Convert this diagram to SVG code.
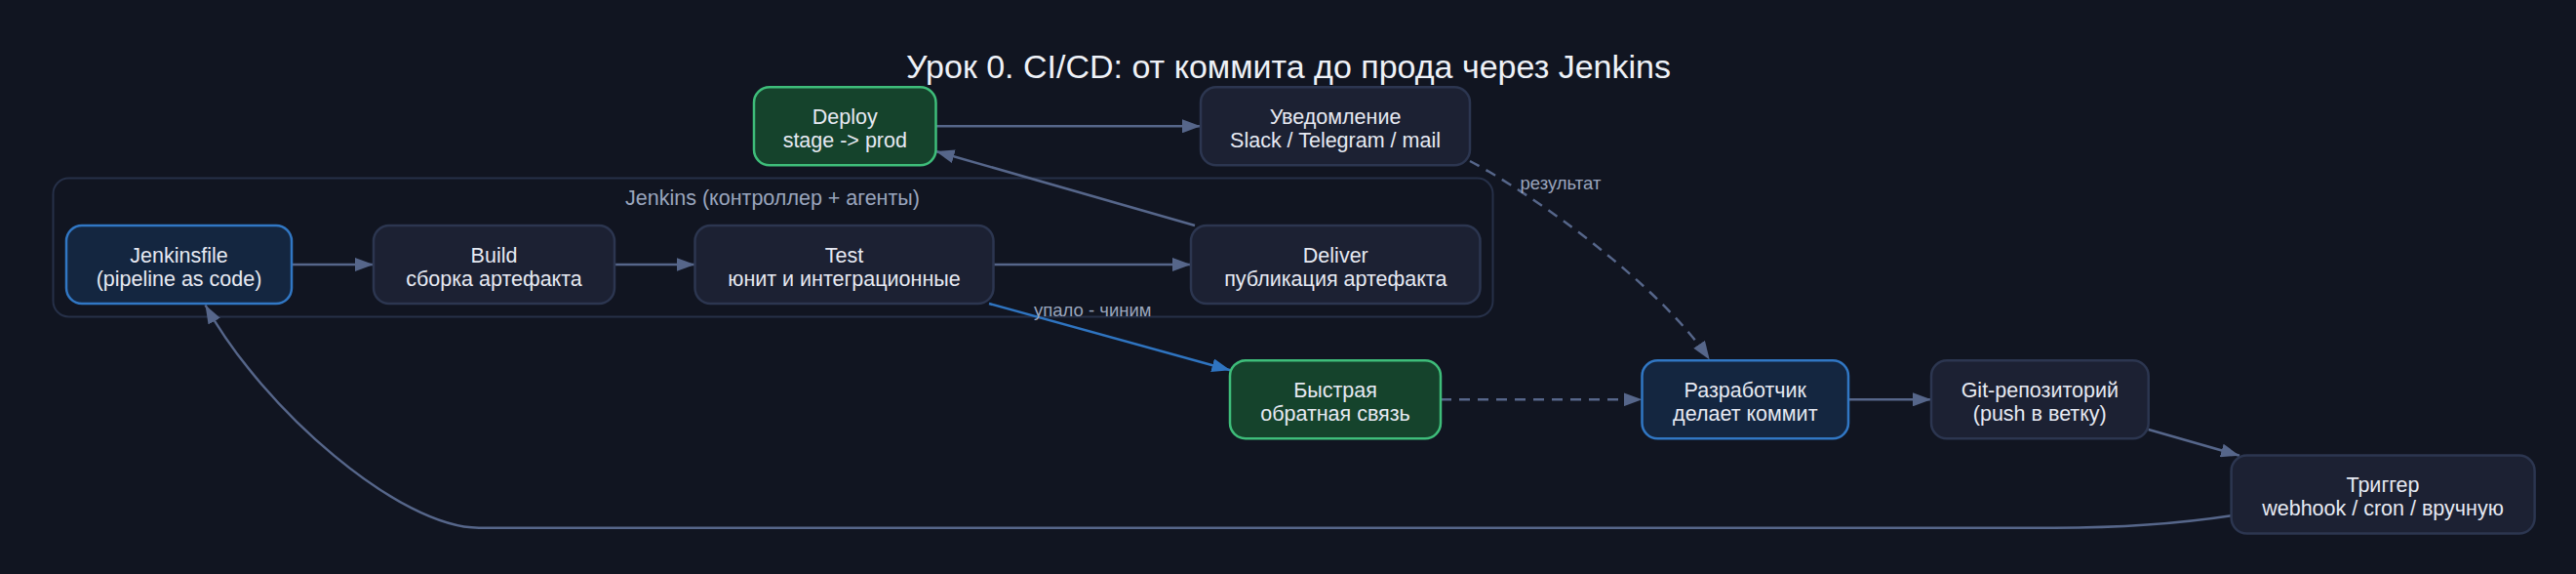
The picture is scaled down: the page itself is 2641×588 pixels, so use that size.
<svg xmlns="http://www.w3.org/2000/svg" width="2641" height="588" viewBox="0 0 2641 588">
<style>
  .bg { fill: #111521; }
  .cluster { fill: #111521; stroke: #263048; stroke-width: 2; }
  .node rect { stroke-width: 2.5; }
  .def rect { fill: #1c2133; stroke: #2c3650; }
  .blue rect { fill: #142640; stroke: #3177c4; }
  .green rect { fill: #15432c; stroke: #3ebd7a; }
  text { font-family: "Liberation Sans", Arial, sans-serif; }
  .lbl { fill: #e6e9f2; font-size: 21.5px; text-anchor: middle; }
  .title { fill: #eef1f7; font-size: 34px; text-anchor: middle; }
  .clabel { fill: #9aa5bd; font-size: 21.5px; text-anchor: middle; }
  .elabel { fill: #9aa5bd; font-size: 18.5px; }
  .edge { fill: none; stroke: #56668a; stroke-width: 2.5; }
  .dash { stroke-dasharray: 11 8; }
  .bedge { fill: none; stroke: #2f74c0; stroke-width: 2.5; }
</style>
<defs>
  <marker id="arr" markerUnits="userSpaceOnUse" markerWidth="20" markerHeight="14" refX="19" refY="7" orient="auto">
    <path d="M0,0 L19,7 L0,14 z" fill="#56668a"/>
  </marker>
  <marker id="barr" markerUnits="userSpaceOnUse" markerWidth="20" markerHeight="14" refX="19" refY="7" orient="auto">
    <path d="M0,0 L19,7 L0,14 z" fill="#2f74c0"/>
  </marker>
</defs>
<rect class="bg" x="0" y="0" width="2641" height="588"/>
<text class="title" x="1321" y="80">Урок 0. CI/CD: от коммита до прода через Jenkins</text>

<g id="cluster-jenkins">
  <rect class="cluster" x="54.5" y="182.5" width="1476" height="142" rx="16"/>
  <text class="clabel" x="792" y="210">Jenkins (контроллер + агенты)</text>
</g>

<g id="connectors">
  <path class="edge" d="M299,271 L383,271" marker-end="url(#arr)"/>
  <path class="edge" d="M630,271 L712.5,271" marker-end="url(#arr)"/>
  <path class="edge" d="M1018.5,271 L1221,271" marker-end="url(#arr)"/>
  <path class="edge" d="M1225,231 L959.5,155" marker-end="url(#arr)"/>
  <path class="edge" d="M959.5,129.3 L1231,129.3" marker-end="url(#arr)"/>
  <path class="edge dash" d="M1507,165 C1570,198 1700,290 1752.7,368.5" marker-end="url(#arr)"/>
  <text class="elabel" x="1558.5" y="193.5">результат</text>
  <path class="bedge" d="M1014,311 L1261.4,379.3" marker-end="url(#barr)"/>
  <text class="elabel" x="1060" y="324">упало - чиним</text>
  <path class="edge dash" d="M1477,409.3 L1683.5,409.3" marker-end="url(#arr)"/>
  <path class="edge" d="M1895,409.3 L1980,409.3" marker-end="url(#arr)"/>
  <path class="edge" d="M2202.7,440 L2296,466.7" marker-end="url(#arr)"/>
  <path class="edge" d="M2287.6,528.3 C2230,537 2160,540.7 2106.7,540.7 L491,540.7 C410,540.7 270,420 210.5,312.5" marker-end="url(#arr)"/>
</g>

<g id="node-jenkinsfile" class="node blue">
  <rect x="68" y="231" width="231" height="80" rx="16"/>
  <text class="lbl" x="183.5" y="269">Jenkinsfile</text>
  <text class="lbl" x="183.5" y="292.5">(pipeline as code)</text>
</g>
<g id="node-build" class="node def">
  <rect x="383" y="231" width="247" height="80" rx="16"/>
  <text class="lbl" x="506.5" y="269">Build</text>
  <text class="lbl" x="506.5" y="292.5">сборка артефакта</text>
</g>
<g id="node-test" class="node def">
  <rect x="712.5" y="231" width="306" height="80" rx="16"/>
  <text class="lbl" x="865.5" y="269">Test</text>
  <text class="lbl" x="865.5" y="292.5">юнит и интеграционные</text>
</g>
<g id="node-deliver" class="node def">
  <rect x="1221" y="231" width="296.5" height="80" rx="16"/>
  <text class="lbl" x="1369.3" y="269">Deliver</text>
  <text class="lbl" x="1369.3" y="292.5">публикация артефакта</text>
</g>
<g id="node-deploy" class="node green">
  <rect x="773" y="89.3" width="186.5" height="80" rx="16"/>
  <text class="lbl" x="866.3" y="127">Deploy</text>
  <text class="lbl" x="866.3" y="150.5">stage -&gt; prod</text>
</g>
<g id="node-notify" class="node def">
  <rect x="1231" y="89.3" width="276" height="80" rx="16"/>
  <text class="lbl" x="1369" y="127">Уведомление</text>
  <text class="lbl" x="1369" y="150.5">Slack / Telegram / mail</text>
</g>
<g id="node-feedback" class="node green">
  <rect x="1261" y="369.3" width="216" height="80" rx="16"/>
  <text class="lbl" x="1369" y="407">Быстрая</text>
  <text class="lbl" x="1369" y="430.5">обратная связь</text>
</g>
<g id="node-dev" class="node blue">
  <rect x="1683.5" y="369.3" width="211.5" height="80" rx="16"/>
  <text class="lbl" x="1789.3" y="407">Разработчик</text>
  <text class="lbl" x="1789.3" y="430.5">делает коммит</text>
</g>
<g id="node-git" class="node def">
  <rect x="1980" y="369.3" width="222.7" height="80" rx="16"/>
  <text class="lbl" x="2091.3" y="407">Git-репозиторий</text>
  <text class="lbl" x="2091.3" y="430.5">(push в ветку)</text>
</g>
<g id="node-trigger" class="node def">
  <rect x="2287.6" y="466.5" width="311" height="80" rx="16"/>
  <text class="lbl" x="2443" y="504">Триггер</text>
  <text class="lbl" x="2443" y="527.5">webhook / cron / вручную</text>
</g>
</svg>
